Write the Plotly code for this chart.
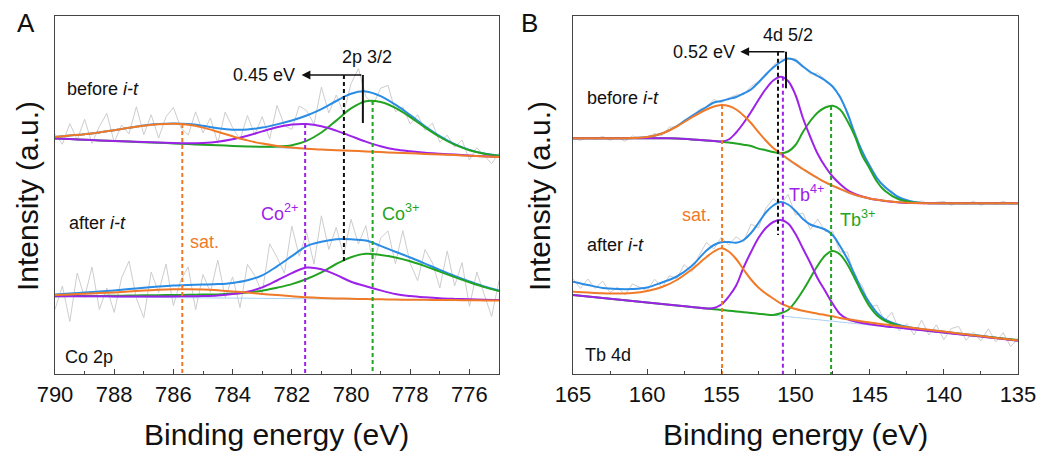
import plotly.graph_objects as go

# ---------------- Panel A : Co 2p ----------------
A_x = [790, 789.5, 789, 788.5, 788, 787.5, 787, 786.5, 786, 785.5, 785, 784.5, 784, 783.5, 783,
       782.5, 782, 781.5, 781, 780.5, 780, 779.5, 779, 778.5, 778, 777.5, 777, 776.5, 776, 775.5, 775]

A_bg_before = [235.5, 234.9, 234.3, 233.6, 233.0, 232.4, 231.8, 231.2, 230.6, 229.9, 229.3, 228.7, 228.1, 227.5, 226.9,
               226.3, 225.6, 225.0, 224.4, 223.8, 223.2, 222.6, 221.9, 221.3, 220.7, 220.1, 219.5, 218.9, 218.2, 217.6, 217.0]
A_sat_before = [237.0, 238.4, 239.8, 241.5, 243.8, 246.2, 248.3, 249.7, 250.2, 249.2, 246.4, 242.2, 237.7, 233.6, 230.4,
                228.1, 226.4, 225.3, 224.4, 223.8, 223.2, 222.6, 221.9, 221.3, 220.7, 220.1, 219.5, 218.9, 218.2, 217.6, 217.0]
A_co2_before = [235.5, 234.9, 234.3, 233.6, 233.0, 232.4, 231.9, 231.4, 230.9, 230.7, 231.1, 232.3, 234.7, 238.2, 242.6,
                246.7, 249.5, 250.0, 247.8, 243.4, 237.9, 232.4, 227.8, 224.5, 222.7, 221.3, 220.3, 219.4, 218.5, 217.7, 217.0]
A_co3_before = [235.5, 234.9, 234.3, 233.6, 233.0, 232.4, 231.8, 231.2, 230.6, 229.9, 229.3, 228.7, 228.1, 227.6, 227.2,
                227.4, 228.8, 233.2, 241.5, 253.4, 265.6, 272.8, 272.0, 266.1, 256.9, 246.5, 237.0, 229.3, 223.8, 220.3, 218.2]
A_env_before = [237.0, 238.4, 239.8, 241.5, 243.8, 246.2, 248.4, 249.9, 250.5, 250.0, 248.2, 245.8, 244.3, 244.4, 246.4,
                249.6, 253.5, 258.5, 264.9, 273.0, 280.3, 282.6, 277.9, 269.3, 258.9, 247.7, 237.8, 229.8, 224.1, 220.4, 218.2]

A_bg_after = [77.5, 77.4, 77.2, 77.1, 76.9, 76.8, 76.7, 76.5, 76.4, 76.3, 76.2, 76.0, 75.9, 75.8, 75.6,
              75.5, 75.4, 75.2, 75.1, 75.0, 74.8, 74.7, 74.6, 74.4, 74.3, 74.2, 74.0, 73.9, 73.8, 73.6, 73.5]
A_sat_after = [79.0, 79.6, 80.2, 80.9, 81.6, 82.5, 83.4, 84.2, 84.7, 84.8, 84.5, 83.7, 82.6, 81.4, 80.1,
               78.9, 77.8, 76.8, 76.1, 75.6, 75.2, 74.9, 74.7, 74.4, 74.3, 74.2, 74.0, 73.9, 73.8, 73.6, 73.5]
A_co2_after = [77.8, 77.8, 77.7, 77.7, 77.6, 77.6, 77.6, 77.5, 77.6, 77.7, 78.0, 78.6, 79.9, 82.3, 86.6,
               93.5, 100.9, 106.5, 104.7, 99.1, 92.3, 87.7, 83.6, 80.0, 78.0, 76.7, 75.7, 75.1, 74.7, 74.2, 74.0]
A_co3_after = [77.8, 77.9, 77.9, 78.1, 78.2, 78.4, 78.7, 78.8, 79.0, 79.2, 79.4, 79.6, 80.4, 81.6, 83.2,
               86.3, 89.9, 95.0, 101.6, 110.0, 116.8, 120.2, 119.0, 116.6, 112.8, 107.9, 102.4, 96.9, 91.7, 86.9, 83.0]
A_env_after = [79.6, 80.5, 81.4, 82.5, 83.6, 84.9, 86.3, 87.5, 88.5, 89.1, 89.5, 89.9, 91.1, 93.7, 98.7,
               107.7, 117.8, 127.9, 132.2, 134.7, 134.7, 133.4, 128.1, 122.2, 116.5, 110.4, 104.1, 98.1, 92.6, 87.5, 83.5]

A_xr = [790, 789.75, 789.5, 789.25, 789, 788.75, 788.5, 788.25, 788, 787.75, 787.5, 787.25, 787, 786.75, 786.5,
        786.25, 786, 785.75, 785.5, 785.25, 785, 784.75, 784.5, 784.25, 784, 783.75, 783.5, 783.25, 783, 782.75,
        782.5, 782.25, 782, 781.75, 781.5, 781.25, 781, 780.75, 780.5, 780.25, 780, 779.75, 779.5, 779.25, 779,
        778.75, 778.5, 778.25, 778, 777.75, 777.5, 777.25, 777, 776.75, 776.5, 776.25, 776, 775.75, 775.5, 775.25, 775]
A_raw_before = [240.0, 229.7, 250.4, 234.1, 254.8, 230.6, 247.5, 260.6, 231.8, 249.0,
                240.2, 267.3, 239.4, 259.2, 235.9, 257.2, 266.5, 246.3, 239.0, 262.1,
                241.2, 256.0, 230.8, 262.0, 246.3, 234.3, 258.4, 239.4, 257.4, 235.0,
                268.6, 248.5, 244.5, 268.0, 263.5, 249.7, 286.9, 261.0, 279.0, 260.7,
                290.3, 305.5, 277.6, 269.3, 285.9, 288.6, 262.3, 267.1, 249.9, 259.3,
                243.7, 250.8, 231.8, 238.8, 226.8, 234.0, 214.1, 226.3, 218.4, 210.3, 221.2]
A_raw_after = [64.6, 88.0, 52.5, 101.0, 76.4, 107.0, 64.5, 86.0, 61.6, 96.2,
               112.9, 75.6, 56.3, 101.9, 81.5, 110.0, 68.5, 93.8, 107.1, 64.3,
               99.5, 81.7, 113.9, 76.5, 97.1, 66.4, 109.7, 98.2, 80.7, 130.2,
               116.7, 100.7, 147.8, 117.8, 141.9, 110.0, 158.2, 124.5, 146.7, 118.7,
               154.7, 130.0, 148.4, 108.7, 136.1, 143.1, 110.2, 143.3, 110.5, 93.4,
               124.4, 111.2, 86.1, 123.1, 88.1, 111.3, 67.6, 102.0, 79.5, 57.5, 93.5]

# peak markers (position, top of dashed line)
A_mark_x = [785.7, 781.55, 779.27]
A_mark_top = [250, 250, 273]
A_ref_x = 780.24
A_ref_y = [299, 113]
A_shift_x = [779.6, 781.67]
A_shift_y = [299, 251]

# ---------------- Panel B : Tb 4d ----------------
B_x = [165, 164, 163, 162, 161, 160, 159, 158, 157, 156, 155.5, 155, 154.5, 154, 153.5, 153, 152.5, 152,
       151.5, 151, 150.5, 150, 149.5, 149, 148.5, 148, 147.5, 147, 146.5, 146, 145.5, 145, 144.5, 144,
       143, 142, 141, 140, 139, 138, 137, 136, 135]

B_bg_before = [235.7, 235.7, 235.7, 235.7, 235.7, 235.7, 235.7, 235.6, 234.6, 233.5,
               233.0, 232.3, 231.5, 230.5, 229.3, 228.0, 225.3, 223.5, 221.8, 218.8,
               214.0, 209.0, 204.2, 199.5, 195.2, 191.0, 187.5, 184.5, 181.3, 178.5,
               176.6, 175.0, 173.8, 172.8, 171.5, 170.9, 170.7, 170.7, 170.7, 170.7, 170.7, 170.7, 170.7]
B_sat_before = [235.7, 235.7, 235.7, 235.7, 236.0, 237.0, 240.5, 247.5, 256.5, 264.5,
                267.5, 269.0, 268.0, 264.5, 258.5, 251.0, 242.0, 233.5, 226.0, 220.5,
                215.0, 209.8, 205.0, 200.3, 196.0, 191.8, 188.3, 185.2, 182.0, 179.2,
                177.2, 175.6, 174.3, 173.3, 171.8, 171.0, 170.8, 170.7, 170.7, 170.7, 170.7, 170.7, 170.7]
B_tb4_before = [235.7, 235.7, 235.7, 235.7, 235.7, 235.7, 235.7, 235.6, 234.6, 233.5,
                233.0, 232.5, 234.5, 241.5, 251.0, 262.0, 274.0, 285.0, 293.5, 297.3,
                293.0, 279.0, 256.0, 237.0, 220.0, 207.5, 197.5, 190.0, 184.0, 180.0,
                177.5, 175.6, 174.2, 173.1, 171.6, 170.9, 170.7, 170.7, 170.7, 170.7, 170.7, 170.7, 170.7]
B_tb3_before = [235.7, 235.7, 235.7, 235.7, 235.7, 235.7, 235.7, 235.6, 234.6, 233.5,
                233.0, 232.3, 231.5, 230.5, 229.3, 228.0, 225.4, 223.8, 222.0, 220.8,
                222.5, 229.0, 242.0, 253.0, 261.5, 266.5, 268.3, 264.5, 253.0, 238.0,
                218.5, 205.5, 192.3, 183.5, 174.5, 171.5, 170.9, 170.8, 170.7, 170.7, 170.7, 170.7, 170.7]
B_env_before = [235.7, 235.7, 235.7, 235.7, 236.0, 237.0, 240.5, 248.0, 258.0, 267.0,
                271.5, 273.0, 275.0, 277.0, 280.5, 284.5, 291.5, 299.5, 306.5, 312.0,
                315.5, 313.5, 307.5, 302.0, 298.0, 293.5, 287.5, 277.0, 261.0, 240.0,
                222.5, 208.0, 195.7, 187.5, 176.5, 172.0, 170.8, 170.7, 170.7, 170.7, 170.7, 170.7, 170.7]

B_bg_after = [79.0, 77.5, 76.0, 74.5, 73.0, 71.5, 70.0, 68.5, 67.0, 65.5,
              64.8, 64.0, 63.3, 62.5, 61.8, 61.0, 60.3, 59.5, 58.8, 58.0,
              57.3, 56.5, 55.8, 55.0, 54.3, 53.5, 52.8, 52.0, 51.3, 50.5,
              49.8, 49.0, 48.3, 47.5, 46.0, 44.5, 43.0, 41.5, 40.0, 38.5, 37.0, 35.5, 34.0]
B_sat_after = [82.3, 81.5, 80.8, 80.5, 81.0, 83.0, 87.0, 94.0, 104.5, 117.0,
               122.5, 125.7, 122.5, 115.0, 104.5, 94.5, 86.5, 80.5, 75.5, 70.7,
               67.5, 65.0, 63.3, 61.8, 60.3, 59.0, 57.7, 56.0, 54.8, 53.7,
               52.6, 51.6, 50.5, 49.4, 47.8, 46.0, 44.2, 42.4, 40.6, 38.8, 37.0, 35.2, 33.4]
B_tb4_after = [79.0, 77.5, 76.0, 74.5, 73.0, 71.5, 70.0, 68.5, 67.0, 65.6,
               66.0, 69.5, 77.5, 88.5, 106.5, 122.0, 136.0, 146.0, 152.0, 154.0,
               150.5, 140.0, 125.5, 111.0, 95.5, 83.0, 70.5, 60.0, 55.0, 52.5,
               51.0, 49.8, 48.8, 47.8, 46.2, 44.5, 43.0, 41.4, 39.8, 38.2, 36.6, 35.0, 33.3]
B_tb3_after = [79.0, 77.5, 76.0, 74.5, 73.0, 71.5, 70.0, 68.5, 67.0, 65.5,
               64.8, 64.0, 63.3, 62.5, 61.8, 61.0, 60.3, 59.5, 59.0, 60.7,
               64.0, 72.5, 83.5, 96.0, 108.5, 118.5, 123.0, 119.5, 109.5, 95.5,
               80.5, 67.5, 58.5, 53.5, 48.0, 45.3, 43.3, 41.6, 40.0, 38.5, 37.0, 35.5, 34.0]
B_env_after = [92.3, 89.0, 86.0, 85.0, 85.0, 86.5, 91.5, 97.5, 108.0, 123.5,
               129.0, 131.8, 132.0, 131.3, 134.0, 141.0, 151.0, 161.5, 168.5, 172.0,
               169.5, 163.0, 155.0, 149.5, 147.0, 144.5, 139.0, 128.0, 115.0, 99.0,
               83.5, 71.0, 61.0, 55.0, 49.0, 46.0, 44.0, 42.3, 40.6, 39.0, 37.2, 35.3, 33.5]

B_xr = [165, 164.5, 164, 163.5, 163, 162.5, 162, 161.5, 161, 160.5, 160, 159.5, 159, 158.5, 158,
        157.5, 157, 156.5, 156, 155.5, 155, 154.5, 154, 153.5, 153, 152.5, 152, 151.5, 151, 150.5,
        150, 149.5, 149, 148.5, 148, 147.5, 147, 146.5, 146, 145.5, 145, 144.5, 144, 143.5, 143,
        142.5, 142, 141.5, 141, 140.5, 140, 139.5, 139, 138.5, 138, 137.5, 137, 136.5, 136, 135.5, 135]
B_raw_before = [235.7, 233.7, 236.7, 234.7, 237.7, 233.7, 236.7, 232.8, 238.0, 236.4,
                236.0, 240.5, 238.5, 247.0, 247.0, 254.0, 256.0, 264.5, 267.0, 274.5,
                271.0, 276.0, 279.0, 279.5, 287.5, 292.5, 297.5, 308.5, 315.0, 314.5,
                315.5, 308.5, 300.0, 301.0, 294.5, 286.5, 279.0, 259.0, 243.0, 221.5,
                210.0, 196.7, 185.5, 183.0, 175.5, 174.8, 170.0, 173.2, 169.8, 171.7,
                172.7, 168.7, 171.7, 169.7, 172.7, 168.7, 171.7, 169.7, 172.7, 169.7, 170.7]
B_raw_after = [95.3, 85.6, 95.0, 85.4, 93.0, 81.4, 87.0, 78.9, 90.0, 86.6,
               83.5, 94.8, 86.5, 98.3, 95.5, 109.5, 102.0, 118.5, 131.5, 125.0,
               136.8, 129.0, 137.3, 132.0, 150.0, 146.0, 165.5, 175.5, 169.0, 179.5,
               159.0, 161.0, 144.5, 155.0, 142.5, 143.0, 122.0, 122.0, 96.0, 88.5,
               67.0, 69.0, 53.0, 61.7, 43.0, 50.4, 39.0, 54.0, 39.0, 49.1,
               34.3, 45.4, 47.6, 33.8, 42.0, 33.1, 45.2, 32.2, 41.3, 27.4, 35.5]

B_mark_x = [154.95, 150.85, 147.6]
B_mark_top = [269, 297.3, 268]
B_ref_x = 151.18
B_ref_y = [322.3, 139]
B_shift_x = [150.64, 153.72]
B_shift_y = [322.3, 285.7]

# ---------------- styling ----------------
FONT = "Liberation Sans, Arial, sans-serif"
C_RAW = "#cdcdcd"
C_BG = "#a9d1f2"
C_ENV = "#2a8ce4"
C_SAT = "#f07a28"
C_MID = "#9d22e8"
C_LOW = "#22a422"
MARK_COLORS = [C_SAT, C_MID, C_LOW]

fig = go.Figure()


def line(x, y, color, width, xa, ya, shape="spline", dash=None):
    fig.add_trace(go.Scatter(x=x, y=y, mode="lines", xaxis=xa, yaxis=ya, hoverinfo="skip",
                             line=dict(color=color, width=width, shape=shape, dash=dash)))


panels = [
    ("x", "y", A_x, A_xr,
     [(A_raw_before, A_bg_before, A_env_before, A_co3_before, A_co2_before, A_sat_before),
      (A_raw_after, A_bg_after, A_env_after, A_co3_after, A_co2_after, A_sat_after)],
     A_mark_x, A_mark_top, A_ref_x, A_ref_y, A_shift_x, A_shift_y),
    ("x2", "y2", B_x, B_xr,
     [(B_raw_before, B_bg_before, B_env_before, B_tb3_before, B_tb4_before, B_sat_before),
      (B_raw_after, B_bg_after, B_env_after, B_tb3_after, B_tb4_after, B_sat_after)],
     B_mark_x, B_mark_top, B_ref_x, B_ref_y, B_shift_x, B_shift_y),
]

for xa, ya, gx, rx, spectra, mx, mtop, rxv, ryv, sx, sy in panels:
    for raw, bg, env, low, mid, sat in spectra:
        line(rx, raw, C_RAW, 1, xa, ya, shape="linear")
        line(gx, bg, C_BG, 1, xa, ya)
        line(gx, env, C_ENV, 2, xa, ya)
        line(gx, low, C_LOW, 2, xa, ya)
        line(gx, mid, C_MID, 2, xa, ya)
        line(gx, sat, C_SAT, 2, xa, ya)
    for xv, top, col in zip(mx, mtop, MARK_COLORS):
        line([xv, xv], [top, 0], col, 2, xa, ya, shape="linear", dash="4px,3px")
    line([rxv, rxv], ryv, "#111111", 2, xa, ya, shape="linear", dash="4px,3px")
    line([sx[0], sx[0]], sy, "#111111", 2, xa, ya, shape="linear")
    fig.add_annotation(x=sx[1], y=sy[0], ax=sx[0], ay=sy[0], xref=xa, yref=ya, axref=xa, ayref=ya,
                       text="", showarrow=True, arrowhead=2, arrowsize=1.1, arrowwidth=1.6,
                       arrowcolor="#111111", standoff=0)


def note(text, x, y, xa, ya, color="#111111", size=18, anchor="left"):
    fig.add_annotation(x=x, y=y, xref=xa, yref=ya, text=text, showarrow=False, xanchor=anchor,
                       yanchor="middle", font=dict(family=FONT, size=size, color=color))


# panel A labels
note("2p 3/2", 779.46, 317, "x", "y", anchor="center")
note("0.45 eV", 781.82, 299, "x", "y", anchor="right")
note("before <i>i-t</i>", 789.66, 285, "x", "y")
note("after <i>i-t</i>", 789.6, 151, "x", "y")
note("Co 2p", 789.73, 17, "x", "y")
note("sat.", 785.5, 132, "x", "y", color=C_SAT)
note("Co<sup>2+</sup>", 781.72, 162, "x", "y", color=C_MID, anchor="right")
note("Co<sup>3+</sup>", 779.02, 162, "x", "y", color=C_LOW)

# panel B labels
note("4d 5/2", 150.48, 339, "x2", "y2", anchor="center")
note("0.52 eV", 153.94, 322.3, "x2", "y2", anchor="right")
note("before <i>i-t</i>", 164.17, 276, "x2", "y2")
note("after <i>i-t</i>", 164.17, 129, "x2", "y2")
note("Tb 4d", 164.33, 19, "x2", "y2")
note("sat.", 155.54, 159, "x2", "y2", color=C_SAT, anchor="right")
note("Tb<sup>4+</sup>", 150.55, 181, "x2", "y2", color=C_MID)
note("Tb<sup>3+</sup>", 147.11, 156, "x2", "y2", color=C_LOW)

# axis titles & panel letters (paper coords)
for px in (0.2305, 0.769):
    fig.add_annotation(x=px, y=-0.1676, xref="paper", yref="paper", text="Binding energy (eV)",
                       showarrow=False, xanchor="center", yanchor="middle",
                       font=dict(family=FONT, size=30, color="#111111"))
for px in (-0.0291, 0.5026):
    fig.add_annotation(x=px, y=0.497, xref="paper", yref="paper", text="Intensity (a.u.)",
                       showarrow=False, textangle=-90, xanchor="center", yanchor="middle",
                       font=dict(family=FONT, size=30, color="#111111"))
for px, letter in ((-0.0301, "A"), (0.4932, "B")):
    fig.add_annotation(x=px, y=0.98, xref="paper", yref="paper", text=letter, showarrow=False,
                       xanchor="center", yanchor="middle", font=dict(family=FONT, size=26, color="#111111"))

xcommon = dict(showline=True, linecolor="#444444", linewidth=1.2, mirror=True, showgrid=False,
               zeroline=False, ticks="inside", ticklen=5, tickwidth=1, tickcolor="#444444",
               tickfont=dict(family=FONT, size=22, color="#111111"), tickmode="linear",
               automargin=False)
ycommon = dict(showline=True, linecolor="#444444", linewidth=1.2, mirror=True, showgrid=False,
               zeroline=False, showticklabels=False, ticks="", range=[0, 358], domain=[0, 1],
               automargin=False)

fig.update_layout(
    width=1040, height=454, margin=dict(l=55, r=22, t=16, b=80, autoexpand=False),
    plot_bgcolor="white", paper_bgcolor="white", showlegend=False,
    xaxis=dict(domain=[0, 0.4611], range=[790, 775], tick0=790, dtick=2, anchor="y",
               minor=dict(dtick=1, tick0=790, ticks="inside", ticklen=3, tickcolor="#444444"), **xcommon),
    yaxis=dict(anchor="x", **ycommon),
    xaxis2=dict(domain=[0.5379, 1], range=[165, 135], tick0=165, dtick=5, anchor="y2",
                minor=dict(dtick=2.5, tick0=165, ticks="inside", ticklen=3, tickcolor="#444444"), **xcommon),
    yaxis2=dict(anchor="x2", **ycommon),
)

fig.write_html("out.html", config={"displayModeBar": False},
               post_script="document.body.style.margin='0px';document.body.style.overflow='hidden';")
